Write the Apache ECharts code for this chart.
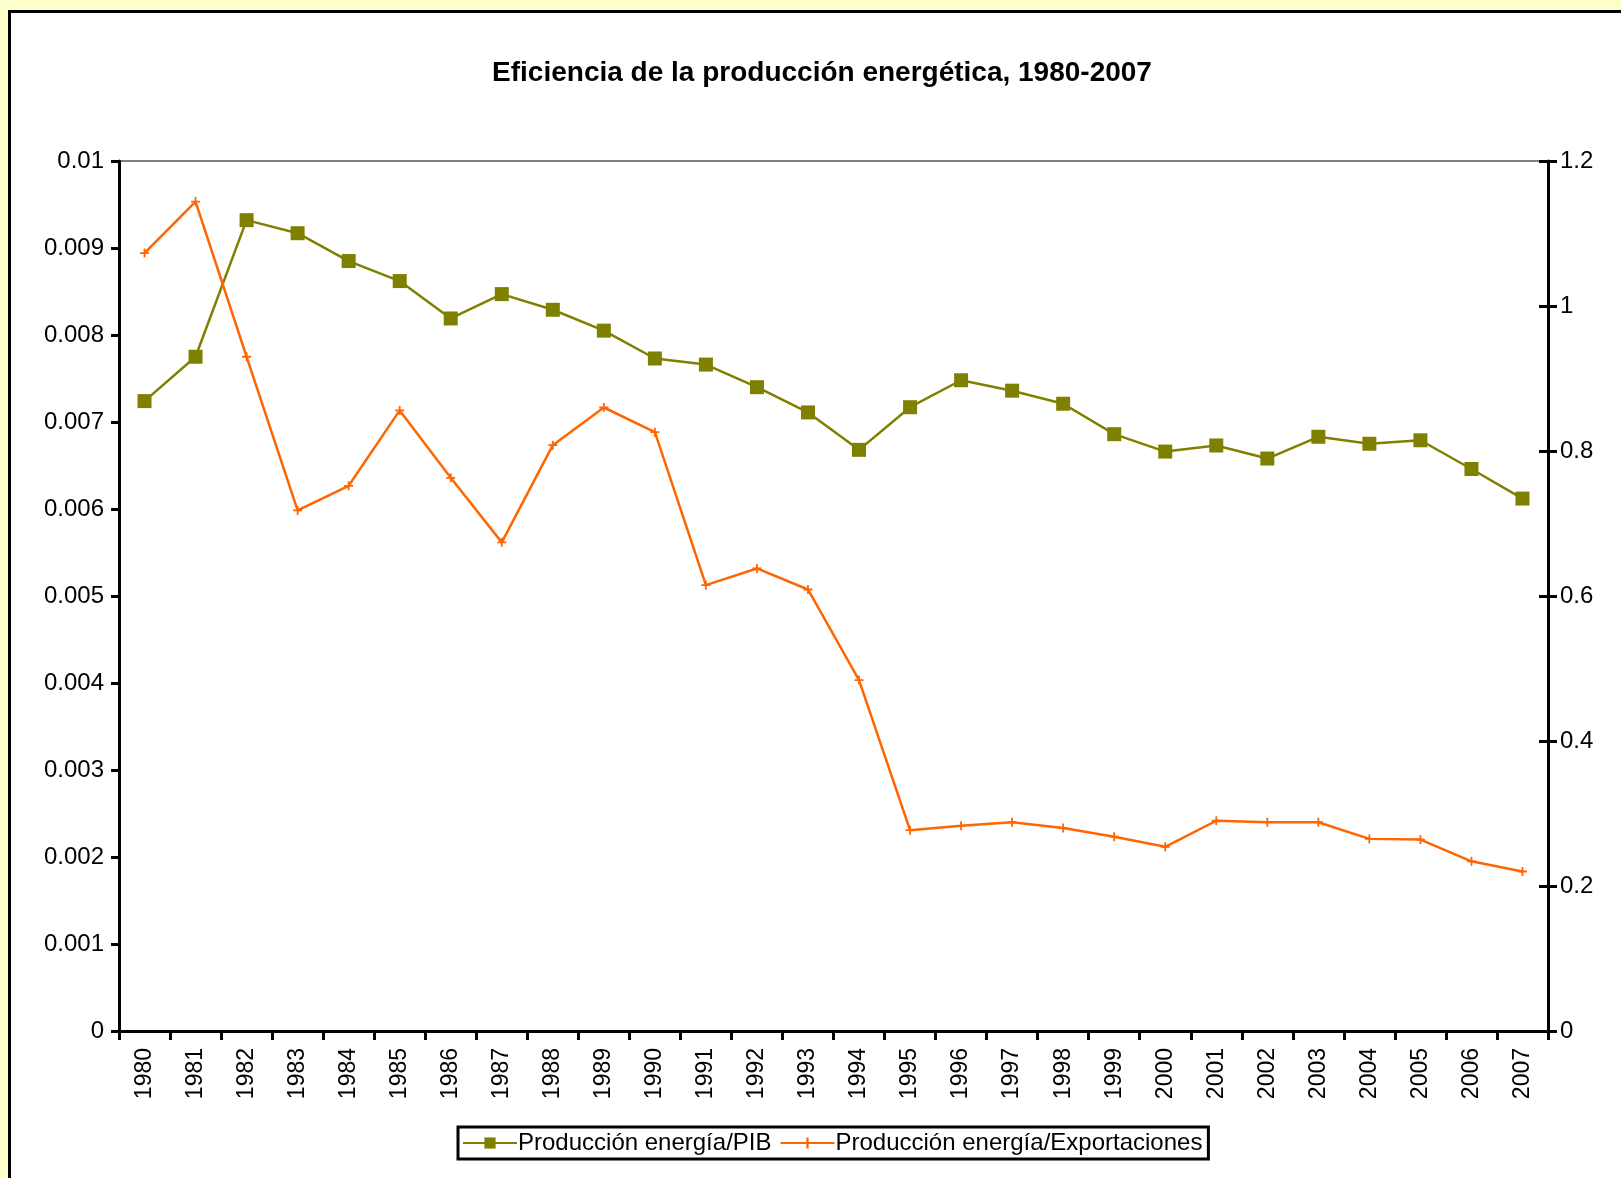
<!DOCTYPE html>
<html>
<head>
<meta charset="utf-8">
<script src="https://cdn.jsdelivr.net/npm/echarts@6/dist/echarts.min.js"></script>
<style>
  html, body { margin: 0; padding: 0; background: #ffffcc; }
  #frame {
    position: absolute; left: 8px; top: 10px; width: 1630px; height: 1190px;
    background: #ffffff; border-left: 3px solid #000; border-top: 3px solid #000;
  }
  #chart { position: absolute; left: 0; top: 0; width: 1621px; height: 1178px; }
</style>
</head>
<body>
<div id="frame"></div>
<div id="chart"></div>
<script>
  // categories (years)
  let years = ["1980","1981","1982","1983","1984","1985","1986","1987","1988","1989",
    "1990","1991","1992","1993","1994","1995","1996","1997","1998","1999",
    "2000","2001","2002","2003","2004","2005","2006","2007"];

  // Producción energía/PIB (left axis)
  let energiaPib = [0.00724, 0.00775, 0.00932, 0.00917, 0.00885, 0.00862, 0.00819, 0.00847,
    0.00829, 0.00805, 0.00773, 0.00766, 0.00740, 0.00711, 0.00668, 0.00717, 0.00748,
    0.00736, 0.00721, 0.00686, 0.00666, 0.00673, 0.00658, 0.00683, 0.00675, 0.00679,
    0.00646, 0.00612];

  // Producción energía/Exportaciones (right axis)
  let energiaExport = [1.073, 1.144, 0.930, 0.718, 0.752, 0.856, 0.763, 0.674, 0.808, 0.860,
    0.826, 0.615, 0.638, 0.609, 0.484, 0.277, 0.283, 0.288, 0.280, 0.268, 0.254, 0.290,
    0.288, 0.288, 0.265, 0.264, 0.234, 0.220];

  let chart = echarts.init(document.getElementById("chart"), null, { renderer: "canvas" });

  let labelFont = { fontFamily: "Liberation Sans", fontSize: 24, color: "#000" };

  let option = {
    animation: false,
    backgroundColor: "transparent",
    title: {
      text: "Eficiencia de la producción energética, 1980-2007",
      left: 817, textAlign: "center", top: 54,
      textStyle: { fontFamily: "Liberation Sans", fontSize: 28, fontWeight: "bold", color: "#000" }
    },
    legend: {
      data: ["Producción energía/PIB", "Producción energía/Exportaciones"],
      left: 458, top: 1127,
      itemWidth: 54, itemHeight: 14, itemGap: 8,
      padding: [4, 6, 4, 4],
      borderColor: "#000", borderWidth: 3,
      textStyle: { fontFamily: "Liberation Sans", fontSize: 24, color: "#000", padding: [0, 0, 0, -4] }
    },
    grid: {
      left: 119, right: 73, top: 161, bottom: 147,
      show: true, borderColor: "#808080", borderWidth: 2, backgroundColor: "#fff"
    },
    xAxis: {
      type: "category",
      data: years,
      boundaryGap: true,
      axisLine: { lineStyle: { color: "#000", width: 3 } },
      axisTick: { show: true, length: 9, lineStyle: { color: "#000", width: 3 } },
      axisLabel: Object.assign({}, labelFont, { rotate: 90, margin: 17, interval: 0, fontSize: 23 })
    },
    yAxis: [
      {
        type: "value", min: 0, max: 0.01, interval: 0.001,
        splitLine: { show: false },
        axisLine: { show: true, lineStyle: { color: "#000", width: 3 } },
        axisTick: { show: true, length: 8, lineStyle: { color: "#000", width: 3 } },
        axisLabel: Object.assign({ margin: 15, formatter: function (v) { return String(+v.toFixed(3)); } }, labelFont)
      },
      {
        type: "value", min: 0, max: 1.2, interval: 0.2,
        splitLine: { show: false },
        axisLine: { show: true, lineStyle: { color: "#000", width: 3 } },
        axisTick: { show: true, length: 9, lineStyle: { color: "#000", width: 3 } },
        axisLabel: Object.assign({ margin: 12, formatter: function (v) { return String(+v.toFixed(1)); } }, labelFont)
      },
      {
        // inner half of the crossing ticks on the right axis
        type: "value", min: 0, max: 1.2, interval: 0.2, position: "right",
        splitLine: { show: false },
        axisLine: { show: false },
        axisTick: { show: true, inside: true, length: 9, lineStyle: { color: "#000", width: 3 } },
        axisLabel: { show: false }
      }
    ],
    series: [
      {
        name: "Producción energía/PIB",
        type: "line",
        yAxisIndex: 0,
        data: energiaPib,
        symbol: "rect", symbolSize: 14,
        itemStyle: { color: "#808000" },
        lineStyle: { color: "#808000", width: 2.5 }
      },
      {
        name: "Producción energía/Exportaciones",
        type: "line",
        yAxisIndex: 1,
        data: energiaExport,
        symbol: "path://M4,0 L6,0 L6,4 L10,4 L10,6 L6,6 L6,10 L4,10 L4,6 L0,6 L0,4 L4,4 Z",
        symbolSize: 9,
        itemStyle: { color: "#ff6600" },
        lineStyle: { color: "#ff6600", width: 2.5 }
      }
    ]
  };

  chart.setOption(option);
</script>
</body>
</html>
